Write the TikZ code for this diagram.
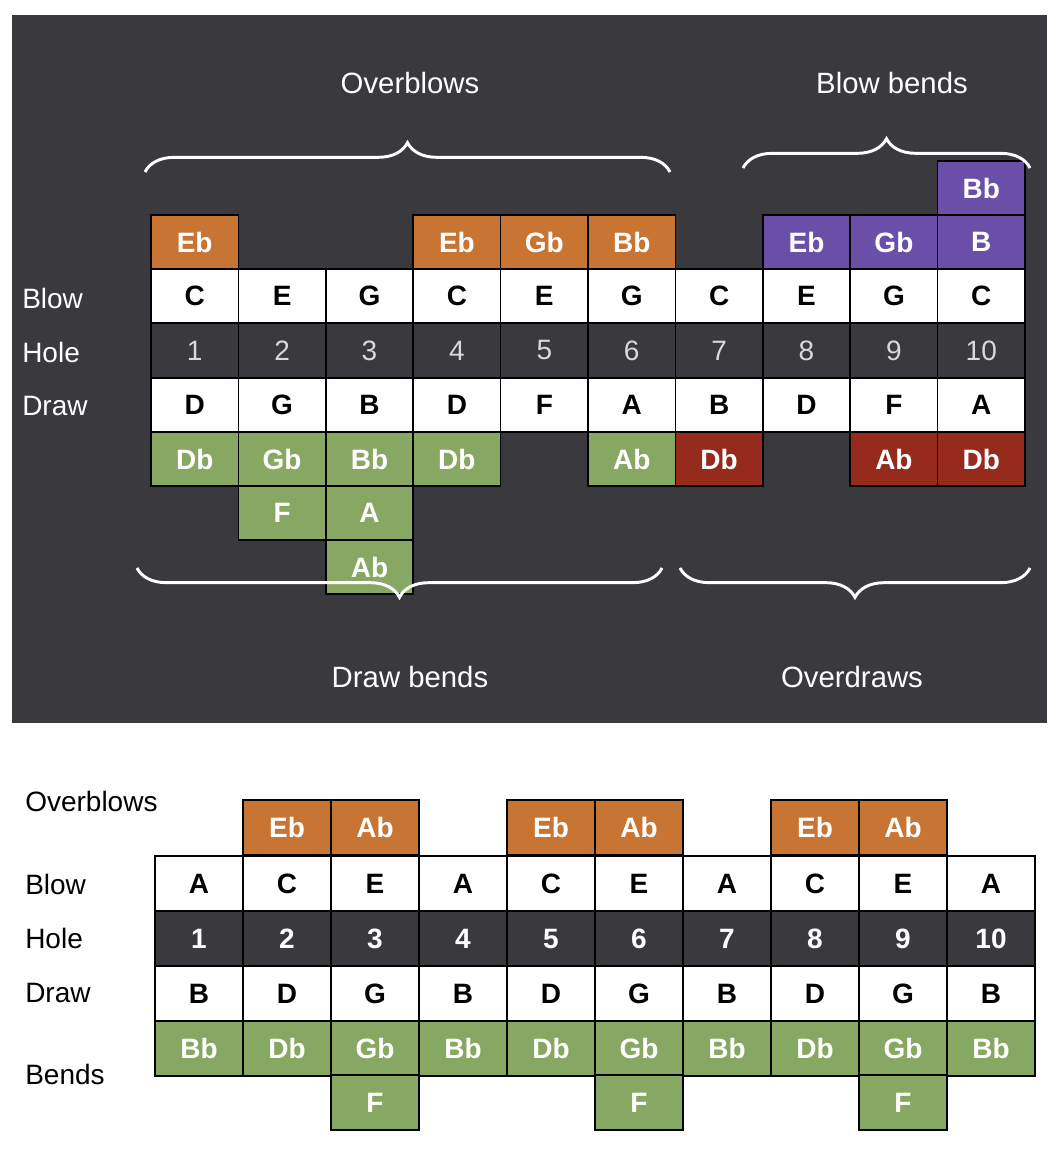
\documentclass[tikz,border=0pt]{standalone}
\usepackage{fontspec}
\setmainfont{Liberation Sans}
\usetikzlibrary{decorations.pathreplacing}
\definecolor{bg}{HTML}{3A393E}
\definecolor{org}{HTML}{C87533}
\definecolor{grn}{HTML}{87A862}
\definecolor{pur}{HTML}{6A4FA8}
\definecolor{red}{HTML}{962A1C}
\begin{document}
\begin{tikzpicture}[x=0.75pt,y=-0.75pt,
  cellA/.style={draw=black,line width=1.2pt,minimum width=65.6pt,minimum height=40.9pt,inner sep=0pt,font=\fontsize{21}{21}\selectfont\bfseries,text=white},
  cellB/.style={cellA,minimum width=66pt,minimum height=41pt},
  lab/.style={anchor=west,font=\fontsize{21}{21}\selectfont,inner sep=0pt},
  brc/.style={draw=white,line width=2.2pt,decorate,decoration={brace,amplitude=22pt}}]
\useasboundingbox (0,0) rectangle (1059,1151);
\fill[white] (0,0) rectangle (1059,1151);
\fill[bg] (12,15) rectangle (1047,723);
% top grid
\newcommand\tc[6]{\node[cellA,fill=#3,text=#4] (#1) at ({151+87.4*(#2-0.5)},{#5+27}) {#6};}
\tc{tbb}{10}{pur}{white}{161}{Bb}
\foreach \c/\f/\t in {1/org/Eb,4/org/Eb,5/org/Gb,6/org/Bb,8/pur/Eb,9/pur/Gb,10/pur/B}{\tc{to\c}{\c}{\f}{white}{215}{\t}}
\foreach \t [count=\c] in {C,E,G,C,E,G,C,E,G,C}{\tc{tb\c}{\c}{white}{black}{269}{\t}}
\foreach \c in {1,...,10}{\node[cellA,fill=bg,text=white!85!black,font=\fontsize{21}{21}\selectfont] (th\c) at ({151+87.4*(\c-0.5)},{323+27.5}) {\c};}
\foreach \t [count=\c] in {D,G,B,D,F,A,B,D,F,A}{\tc{td\c}{\c}{white}{black}{378}{\t}}
\foreach \c/\f/\t in {1/grn/Db,2/grn/Gb,3/grn/Bb,4/grn/Db,6/grn/Ab,7/red/Db,9/red/Ab,10/red/Db}{\tc{tx\c}{\c}{\f}{white}{432}{\t}}
\tc{ty2}{2}{grn}{white}{486}{F}
\tc{ty3}{3}{grn}{white}{486}{A}
\tc{tz3}{3}{grn}{white}{540}{Ab}
\node[lab,text=white] (l1) at (22,298) {Blow};
\node[lab,text=white] (l2) at (22,352) {Hole};
\node[lab,text=white] (l3) at (22,406) {Draw};
% braces
\draw[brc] (145,172) -- (670,172);
\draw[brc] (743,168) -- (1030,168);
\draw[brc] (662,568) -- (137,568);
\draw[brc] (1030,568) -- (680,568);
\node[font=\fontsize{22}{22}\selectfont,text=white] (b1) at (410,83) {Overblows};
\node[font=\fontsize{22}{22}\selectfont,text=white] (b2) at (892,83) {Blow bends};
\node[font=\fontsize{22}{22}\selectfont,text=white] (b3) at (410,677) {Draw bends};
\node[font=\fontsize{22}{22}\selectfont,text=white] (b4) at (852,677) {Overdraws};
% bottom grid
\newcommand\bc[6]{\node[cellB,fill=#3,text=#4] (#1) at ({155+88*(#2-0.5)},{#5+27.5}) {#6};}
\foreach \c/\t in {2/Eb,3/Ab,5/Eb,6/Ab,8/Eb,9/Ab}{\bc{bo\c}{\c}{org}{white}{800}{\t}}
\foreach \t [count=\c] in {A,C,E,A,C,E,A,C,E,A}{\bc{bb\c}{\c}{white}{black}{856}{\t}}
\foreach \c in {1,...,10}{\bc{bh\c}{\c}{bg}{white}{911}{\c}}
\foreach \t [count=\c] in {B,D,G,B,D,G,B,D,G,B}{\bc{bd\c}{\c}{white}{black}{966}{\t}}
\foreach \t [count=\c] in {Bb,Db,Gb,Bb,Db,Gb,Bb,Db,Gb,Bb}{\bc{bx\c}{\c}{grn}{white}{1021}{\t}}
\foreach \c in {3,6,9}{\bc{bf\c}{\c}{grn}{white}{1075}{F}}
\node[lab] (m0) at (25,801) {Overblows};
\node[lab] (m1) at (25,884) {Blow};
\node[lab] (m2) at (25,938) {Hole};
\node[lab] (m3) at (25,993) {Draw};
\node[lab] (m4) at (25,1074) {Bends};
\end{tikzpicture}
\end{document}
